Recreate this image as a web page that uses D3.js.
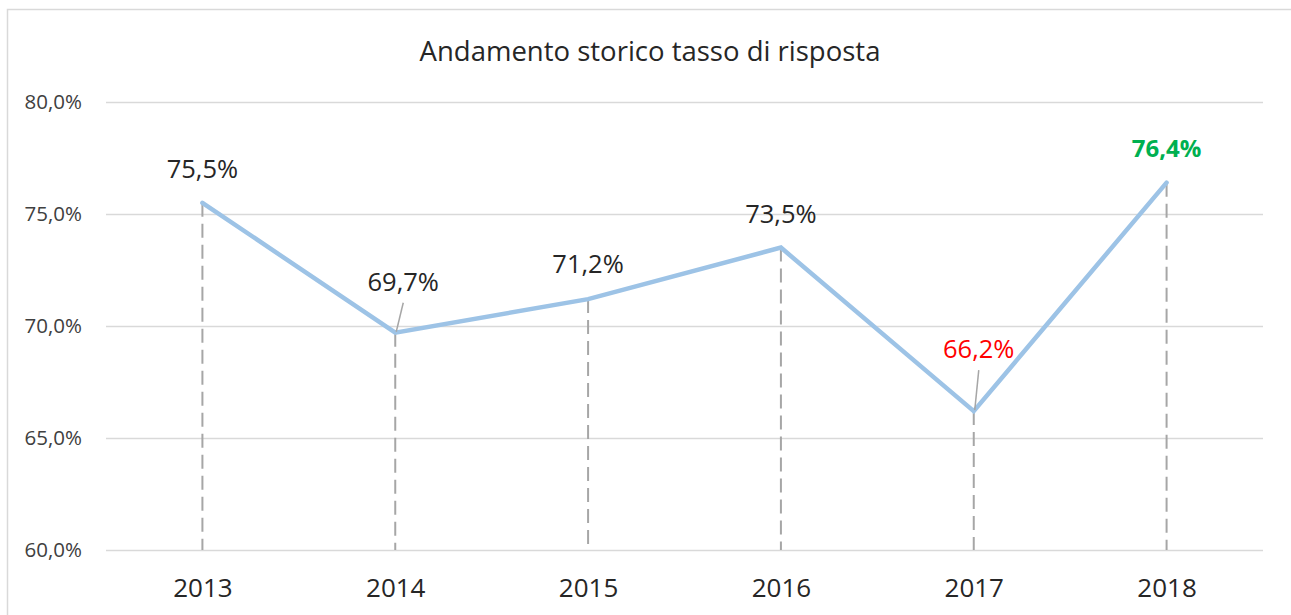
<!DOCTYPE html>
<html><head><meta charset="utf-8">
<script src="https://cdn.jsdelivr.net/npm/d3@7"></script>
<style>
html,body{margin:0;padding:0;background:#fff;}
svg{display:block;font-family:"Open Sans","Noto Sans",sans-serif;}
</style></head>
<body><svg id="c" width="1291" height="615"></svg>
<script>
const years = ["2013","2014","2015","2016","2017","2018"];
const rates = [75.5, 69.7, 71.2, 73.5, 66.2, 76.4];
const yTicks = [60, 65, 70, 75, 80];
const title = "Andamento storico tasso di risposta";

const fmt = v => d3.format(".1f")(v).replace(".", ",") + "%";
const svg = d3.select("#c");
const W = 1291, H = 615;
const m = {left:106, right:28, top:102, bottom:65};

svg.append("rect").attr("x",7.5).attr("y",9.5).attr("width",W+10).attr("height",H+10)
  .attr("fill","#fff").attr("stroke","#d9d9d9").attr("stroke-width",1.5);

const x = d3.scalePoint().domain(years).range([m.left, W-m.right]).padding(0.5);
const y = d3.scaleLinear().domain([60,80]).range([H-m.bottom, m.top]);

svg.append("text").attr("x",650).attr("y",61).attr("text-anchor","middle")
  .attr("font-size",27.5).attr("font-weight",400).attr("fill","#262626").text(title);

// grid
const yAxis = d3.axisLeft(y).tickValues(yTicks).tickSize(-(W-m.left-m.right)).tickPadding(24)
  .tickFormat(d => d3.format(".1f")(d).replace(".", ",") + "%");
const ga = svg.append("g").attr("transform",`translate(${m.left},0)`).call(yAxis);
ga.select(".domain").remove();
ga.selectAll(".tick line").attr("stroke","#d9d9d9").attr("stroke-width",1.5);
ga.selectAll(".tick text").attr("font-size",20.5).attr("fill","#404040").attr("font-family","Open Sans");

const xAxis = d3.axisBottom(x).tickSize(0).tickPadding(29);
const gx = svg.append("g").attr("transform",`translate(0,${H-m.bottom})`).call(xAxis);
gx.select(".domain").remove();
gx.selectAll(".tick text").attr("font-size",26).attr("fill","#262626").attr("font-family","Open Sans");

// drop lines
svg.append("g").selectAll("line").data(years).join("line")
  .attr("x1",d=>x(d)).attr("x2",d=>x(d))
  .attr("y1",(d,i)=>y(rates[i])).attr("y2",y(60))
  .attr("stroke","#a6a6a6").attr("stroke-width",2).attr("stroke-dasharray","14,7");

// line
const line = d3.line().x((d,i)=>x(years[i])).y(d=>y(d));
svg.append("path").datum(rates).attr("d",line).attr("fill","none")
  .attr("stroke","#9dc3e6").attr("stroke-width",4.5).attr("stroke-linejoin","miter").attr("stroke-linecap","round");

// labels
const labelDx = [0, 8, 0, 0, 5, 0];
const labelDy = [-25, -42, -26, -25, -53, -26];
const colors = ["#262626","#262626","#262626","#262626","#ff0000","#00b050"];
const weights = [400,400,400,400,400,700];
const sizes = [25.5,25.5,25.5,25.5,25.5,24];
svg.append("g").selectAll("text").data(rates).join("text")
  .attr("x",(d,i)=>x(years[i])+labelDx[i]).attr("y",(d,i)=>y(d)+labelDy[i])
  .attr("text-anchor","middle").attr("font-size",(d,i)=>sizes[i])
  .attr("fill",(d,i)=>colors[i]).attr("font-weight",(d,i)=>weights[i]).text(d=>fmt(d));

// leader lines for 2014 and 2017
[1,4].forEach(i=>{
  svg.append("line").attr("x1",x(years[i])+labelDx[i]).attr("y1",y(rates[i])+labelDy[i]+12)
    .attr("x2",x(years[i])+1).attr("y2",y(rates[i])-1)
    .attr("stroke","#a6a6a6").attr("stroke-width",1.5);
});
</script></body></html>
